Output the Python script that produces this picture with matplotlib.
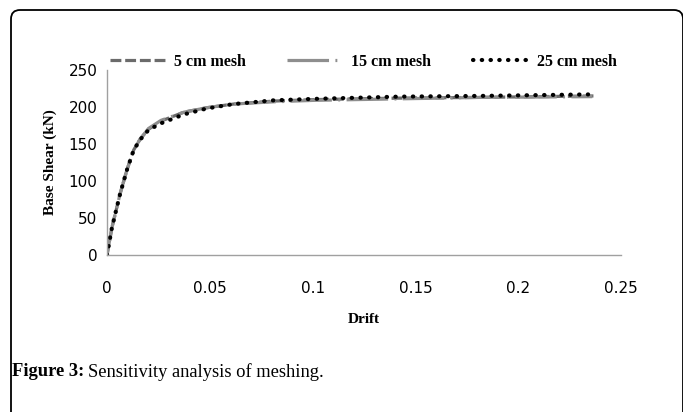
import matplotlib.pyplot as plt
from matplotlib.patches import FancyBboxPatch
from matplotlib.transforms import IdentityTransform

# data
drift_5 = [0, 0.0024, 0.0064, 0.0097, 0.013, 0.0162, 0.0202, 0.0263, 0.0374, 0.0485, 0.0616, 0.081, 0.101, 0.142, 0.182, 0.238]
shear_5 = [0, 37, 83, 115, 142, 157, 170, 181, 193, 199, 204, 208, 210, 212, 213, 215]

drift_15 = [0, 0.0024, 0.0064, 0.0097, 0.013, 0.0162, 0.0202, 0.0263, 0.0374, 0.0485, 0.0616, 0.081, 0.101, 0.142, 0.182, 0.236]
shear_15 = [0, 37, 83, 115, 142, 157, 171, 182, 193, 199, 204, 207, 209, 211, 213, 214]

drift_25 = [0, 0.0024, 0.0064, 0.0097, 0.013, 0.0162, 0.0202, 0.0263, 0.0374, 0.0485, 0.0616, 0.081, 0.101, 0.142, 0.182, 0.234]
shear_25 = [0, 37, 83, 115, 142, 156, 169, 178, 190, 198, 204, 209, 211, 214, 215, 217]

labels = ["5 cm mesh", "15 cm mesh", "25 cm mesh"]
x_ticks = [0, 0.05, 0.1, 0.15, 0.2, 0.25]
x_tick_labels = ["0", "0.05", "0.1", "0.15", "0.2", "0.25"]
y_ticks = [0, 50, 100, 150, 200, 250]

serif = "Liberation Serif"

fig = plt.figure(figsize=(6.83, 4.12), dpi=100)
ax = fig.add_axes([107 / 683, 157 / 412, 514 / 683, 185 / 412])

# the three curves
l5, = ax.plot(drift_5, shear_5, color="#6b6b6b", lw=2.3, dashes=(3.4, 1.2), solid_capstyle="butt")
l15, = ax.plot(drift_15, shear_15, color="#8e8e8e", lw=2.3, dashes=(13, 2, 0.6, 2))
l25, = ax.plot(drift_25, shear_25, color="black", lw=3, linestyle=(0, (0.1, 2)), dash_capstyle="round")

ax.set_xlim(0, 0.25)
ax.set_ylim(0, 250)
ax.set_xticks(x_ticks)
ax.set_xticklabels(x_tick_labels)
ax.set_yticks(y_ticks)
ax.tick_params(axis="x", length=0, pad=19, labelsize=11)
ax.tick_params(axis="y", length=0, pad=7, labelsize=11)

for side in ["top", "right"]:
    ax.spines[side].set_visible(False)
for side in ["left", "bottom"]:
    ax.spines[side].set_color("#a0a0a0")
    ax.spines[side].set_linewidth(1)

ax.set_xlabel("Drift", fontfamily=serif, fontweight="bold", fontsize=11)
ax.xaxis.set_label_coords(0.5, -0.315)
ax.set_ylabel("Base Shear (kN)", fontfamily=serif, fontweight="bold", fontsize=11)
ax.yaxis.set_label_coords(-0.097, 0.5)

ax.legend([l5, l15, l25], labels, ncol=3, frameon=False,
          loc="center left", bbox_to_anchor=(3 / 514, 1.045), borderaxespad=0, borderpad=0,
          handlelength=3.5, handletextpad=0.5, columnspacing=2.6,
          prop={"family": serif, "weight": "bold", "size": 11.5})

# caption under the chart
cap1 = fig.text(12 / 683, 1 - 372 / 412, "Figure 3:", fontfamily=serif, fontweight="bold",
                fontsize=13.3, va="center")
renderer = fig.canvas.get_renderer()
bb = cap1.get_window_extent(renderer)
fig.text(bb.x1 / 683 + 4 / 683, 1 - 372 / 412, "Sensitivity analysis of meshing.",
         fontfamily=serif, fontsize=13.3, va="center")

# rounded border around the figure
border = FancyBboxPatch((11, -20), 672, 402 + 20, boxstyle="round,pad=0,rounding_size=9",
                        transform=IdentityTransform(), fill=False, lw=1.3, ec="black")
fig.patches.append(border)

fig.savefig("out.png", dpi=100)
